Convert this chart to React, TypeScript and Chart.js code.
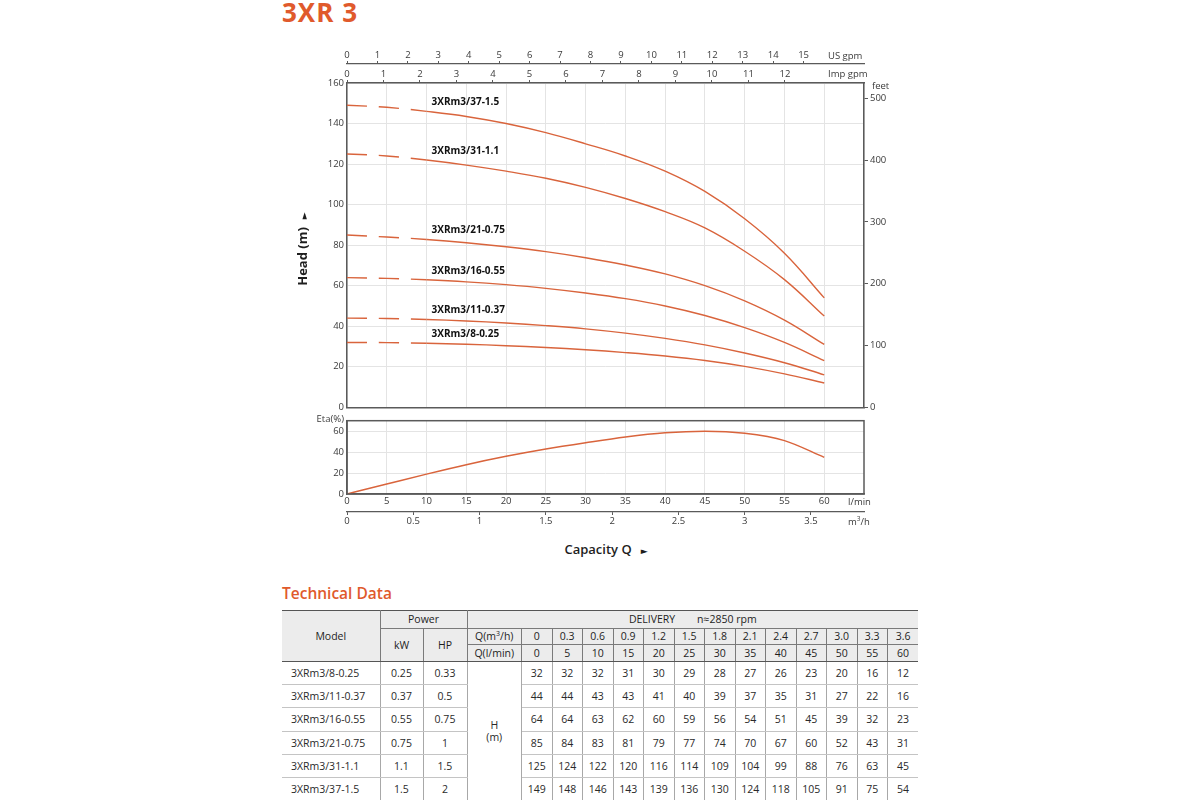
import React, { useEffect, useRef } from "react";
import { Chart, registerables } from "chart.js";

Chart.register(...registerables);

// ---------- data ----------
const models = ["3XRm3/8-0.25", "3XRm3/11-0.37", "3XRm3/16-0.55", "3XRm3/21-0.75", "3XRm3/31-1.1", "3XRm3/37-1.5"];
const powerKW = ["0.25", "0.37", "0.55", "0.75", "1.1", "1.5"];
const powerHP = ["0.33", "0.5", "0.75", "1", "1.5", "2"];
const flowM3h = ["0", "0.3", "0.6", "0.9", "1.2", "1.5", "1.8", "2.1", "2.4", "2.7", "3.0", "3.3", "3.6"];
const flowLmin = [0, 5, 10, 15, 20, 25, 30, 35, 40, 45, 50, 55, 60];

// head values printed in the table
const table_8_025 = [32, 32, 32, 31, 30, 29, 28, 27, 26, 23, 20, 16, 12];
const table_11_037 = [44, 44, 43, 43, 41, 40, 39, 37, 35, 31, 27, 22, 16];
const table_16_055 = [64, 64, 63, 62, 60, 59, 56, 54, 51, 45, 39, 32, 23];
const table_21_075 = [85, 84, 83, 81, 79, 77, 74, 70, 67, 60, 52, 43, 31];
const table_31_11 = [125, 124, 122, 120, 116, 114, 109, 104, 99, 88, 76, 63, 45];
const table_37_15 = [149, 148, 146, 143, 139, 136, 130, 124, 118, 105, 91, 75, 54];
const tableHeads = [table_8_025, table_11_037, table_16_055, table_21_075, table_31_11, table_37_15];

const curve_8_025 = [32, 31.9, 31.6, 31.1, 30.4, 29.5, 28.4, 27, 25.3, 23.1, 20.2, 16.5, 12];
const curve_11_037 = [44, 43.8, 43.3, 42.6, 41.6, 40.3, 38.7, 36.6, 34, 30.8, 26.8, 22, 16];
const curve_16_055 = [64, 63.6, 62.9, 61.9, 60.5, 58.7, 56.4, 53.6, 50, 45.3, 39.3, 32, 23];
const curve_21_075 = [85, 84, 82.8, 81.2, 79.2, 76.8, 73.8, 70.2, 65.8, 60, 52.5, 43, 31];
const curve_31_11 = [125, 124, 122, 119.5, 116.5, 113, 108.5, 103, 96.5, 88.5, 77, 63, 45];
const curve_37_15 = [149, 148, 146, 143.5, 140, 135.5, 130, 124, 116.5, 106.5, 93, 76, 54];
const curveHeads = [curve_8_025, curve_11_037, curve_16_055, curve_21_075, curve_31_11, curve_37_15];

const etaValues = [0, 9.5, 19, 28, 36, 43, 49, 54.5, 58.5, 60, 58, 51, 35];

const headTicksMax = 160;
const etaTicksMax = 70;
const flowMax = 65; // l/min at right edge of plot
const usGpmLastTick = 15;
const impGpmLastTick = 12;
const feetLastTick = 500;
const m3hLastTick = 3.5;
const flowLastTick = 60;

// unit conversions (as drawn in the reference)
const LPM_PER_USGPM = 3.827;
const LPM_PER_IMPGPM = 4.588;
const FT_PER_M = 3.28084;
const LPM_PER_M3H = 1000 / 60;

const DASH_UNTIL = 10; // l/min where the dashed start of the curves ends
const LABEL_INDEX = 2; // point above which a curve's name is written

// ---------- style ----------
const FONT = "'Open Sans', 'Noto Sans', sans-serif";
const ORANGE_TEXT = "#e05a2c";
const ORANGE_LINE = "#d9643c";
const AXIS = "#5a5a5a";
const GRID = "#e4e4e4";
const TICK = "#3a3a3a";
const HEADER_BG = "#ececec";

const tickFont = { size: 9.5, family: FONT };

const curveLabelPlugin = {
  id: "curveLabels",
  afterDatasetsDraw(chart: any) {
    const { ctx } = chart;
    const xs = chart.scales.x;
    const ys = chart.scales.y;
    ctx.save();
    ctx.font = `bold 10px ${FONT}`;
    ctx.fillStyle = "#111";
    ctx.textAlign = "left";
    ctx.textBaseline = "middle";
    chart.data.datasets.forEach((ds: any) => {
      const pt = ds.data[LABEL_INDEX];
      ctx.fillText(ds.label, xs.getPixelForValue(pt.x) + 5, ys.getPixelForValue(pt.y) - 9);
    });
    ctx.restore();
  },
};

const framePlugin = {
  id: "frame",
  afterDraw(chart: any) {
    const { ctx, chartArea: a } = chart;
    ctx.save();
    ctx.strokeStyle = AXIS;
    ctx.lineWidth = 1.5;
    ctx.strokeRect(a.left, a.top, a.right - a.left, a.bottom - a.top);
    ctx.restore();
  },
};

function Txt(props: { x: number; y: number; align?: "left" | "right" | "center"; size?: number; weight?: number; color?: string; children: any; style?: any }) {
  const { x, y, align = "left", size = 9.5, weight = 400, color = TICK, children, style } = props;
  const s: any = {
    position: "absolute",
    top: y,
    fontSize: size,
    fontWeight: weight,
    color,
    lineHeight: 1,
    whiteSpace: "nowrap",
    fontFamily: FONT,
  };
  if (align === "left") {
    s.left = x;
    s.transform = "translateY(-50%)";
  } else if (align === "right") {
    s.right = 1200 - x;
    s.transform = "translateY(-50%)";
  } else {
    s.left = x;
    s.transform = "translate(-50%, -50%)";
  }
  return <div style={{ ...s, ...style }}>{children}</div>;
}

export default function App() {
  const mainRef = useRef<HTMLCanvasElement>(null);
  const etaRef = useRef<HTMLCanvasElement>(null);

  useEffect(() => {
    Chart.defaults.font.family = FONT;

    const main = new Chart(mainRef.current as HTMLCanvasElement, {
      type: "line",
      data: {
        datasets: curveHeads.map((h, i) => ({
          label: models[i],
          data: flowLmin.map((q, j) => ({ x: q, y: h[j] })),
          borderColor: ORANGE_LINE,
          borderWidth: 1.4,
          pointRadius: 0,
          fill: false,
          tension: 0.4,
          xAxisID: "x",
          yAxisID: "y",
          segment: {
            borderDash: (ctx: any) => (ctx.p0.parsed.x < DASH_UNTIL ? [20, 12] : undefined),
          },
        })),
      } as any,
      options: {
        animation: false,
        responsive: false,
        layout: { padding: 0 },
        plugins: { legend: { display: false }, tooltip: { enabled: false } },
        scales: {
          x: {
            type: "linear",
            position: "bottom",
            min: 0,
            max: flowMax,
            ticks: { display: false, stepSize: 5 },
            grid: { color: GRID, drawTicks: false, lineWidth: 1 },
            border: { color: AXIS, width: 1.5 },
            afterFit: (s: any) => {
              s.height = 8;
            },
          },
          us: {
            type: "linear",
            position: "top",
            weight: 1,
            min: 0,
            max: flowMax / LPM_PER_USGPM,
            ticks: { stepSize: 1, padding: 0, color: TICK, font: tickFont, maxRotation: 0, autoSkip: false },
            grid: { drawOnChartArea: false, tickLength: 3, color: AXIS },
            border: { color: AXIS, width: 1.2 },
            afterBuildTicks: (s: any) => {
              s.ticks = s.ticks.filter((t: any) => t.value <= usGpmLastTick);
            },
            afterFit: (s: any) => {
              s.height = 20;
            },
          },
          imp: {
            type: "linear",
            position: "top",
            weight: 0,
            min: 0,
            max: flowMax / LPM_PER_IMPGPM,
            ticks: { stepSize: 1, padding: 0, color: TICK, font: tickFont, maxRotation: 0, autoSkip: false },
            grid: { drawOnChartArea: false, tickLength: 3, color: AXIS },
            border: { color: AXIS, width: 1.5 },
            afterBuildTicks: (s: any) => {
              s.ticks = s.ticks.filter((t: any) => t.value <= impGpmLastTick);
            },
            afterFit: (s: any) => {
              s.height = 19;
            },
          },
          y: {
            type: "linear",
            position: "left",
            min: 0,
            max: headTicksMax,
            ticks: { stepSize: 20, padding: 3, color: TICK, font: tickFont },
            grid: { color: GRID, drawTicks: false },
            border: { color: AXIS, width: 1.5 },
            afterFit: (s: any) => {
              s.width = 67;
            },
          },
          ft: {
            type: "linear",
            position: "right",
            min: 0,
            max: headTicksMax * FT_PER_M,
            ticks: { stepSize: 100, padding: 2, color: TICK, font: tickFont },
            grid: { drawOnChartArea: false, tickLength: 4, color: AXIS },
            border: { color: AXIS, width: 1.5 },
            afterBuildTicks: (s: any) => {
              s.ticks = s.ticks.filter((t: any) => t.value <= feetLastTick);
            },
            afterFit: (s: any) => {
              s.width = 36;
            },
          },
        },
      } as any,
      plugins: [curveLabelPlugin],
    });

    const eta = new Chart(etaRef.current as HTMLCanvasElement, {
      type: "line",
      data: {
        datasets: [
          {
            label: "Eta",
            data: flowLmin.map((q, j) => ({ x: q, y: etaValues[j] })),
            borderColor: ORANGE_LINE,
            borderWidth: 1.5,
            pointRadius: 0,
            fill: false,
            cubicInterpolationMode: "monotone",
            xAxisID: "x",
            yAxisID: "y",
          },
        ],
      } as any,
      options: {
        animation: false,
        responsive: false,
        layout: { padding: { top: 7, right: 36, left: 0, bottom: 0 } },
        plugins: { legend: { display: false }, tooltip: { enabled: false } },
        scales: {
          x: {
            type: "linear",
            position: "bottom",
            weight: 0,
            min: 0,
            max: flowMax,
            ticks: { stepSize: 5, padding: 2, color: TICK, font: tickFont, maxRotation: 0, autoSkip: false },
            grid: { color: GRID, drawTicks: false },
            border: { color: AXIS, width: 1.5 },
            afterBuildTicks: (s: any) => {
              s.ticks = s.ticks.filter((t: any) => t.value <= flowLastTick);
            },
            afterFit: (s: any) => {
              s.height = 18;
            },
          },
          m3h: {
            type: "linear",
            position: "bottom",
            weight: 1,
            min: 0,
            max: flowMax / LPM_PER_M3H,
            ticks: {
              stepSize: 0.5,
              padding: 1,
              color: TICK,
              font: tickFont,
              maxRotation: 0,
              autoSkip: false,
              callback: (v: any) => String(Math.round(Number(v) * 10) / 10),
            },
            grid: { drawOnChartArea: false, tickLength: 3, color: AXIS },
            border: { color: AXIS, width: 1.2 },
            afterBuildTicks: (s: any) => {
              s.ticks = s.ticks.filter((t: any) => t.value <= m3hLastTick);
            },
            afterFit: (s: any) => {
              s.height = 24;
            },
          },
          y: {
            type: "linear",
            position: "left",
            min: 0,
            max: etaTicksMax,
            ticks: {
              stepSize: 10,
              padding: 3,
              color: TICK,
              font: tickFont,
              callback: (v: any) => (v % 20 === 0 ? String(v) : ""),
            },
            grid: { color: GRID, drawTicks: false },
            border: { color: AXIS, width: 1.5 },
            afterFit: (s: any) => {
              s.width = 67;
            },
          },
        },
      } as any,
      plugins: [framePlugin],
    });

    return () => {
      main.destroy();
      eta.destroy();
    };
  }, []);

  const cell: any = {
    padding: 0,
    textAlign: "center",
    verticalAlign: "middle",
    fontSize: 10.5,
    color: "#2a2a2a",
    fontFamily: FONT,
    lineHeight: 1.15,
  };
  const hdr: any = { ...cell, background: HEADER_BG, color: "#1e1e1e", fontWeight: 500 };
  const hb = "1px solid #7a7a7a";
  const db = "1px solid #c4c4c4";
  const dv = "1px solid #a8a8a8";

  return (
    <div
      style={{
        position: "absolute",
        left: 0,
        top: 0,
        width: 1200,
        height: 800,
        background: "#fff",
        overflow: "hidden",
        fontFamily: FONT,
      }}
    >
      <Txt x={282} y={12} size={26} weight={700} color={ORANGE_TEXT} style={{ letterSpacing: 1 }}>
        3XR 3
      </Txt>

      {/* main chart */}
      <div style={{ position: "absolute", left: 280, top: 44, width: 620, height: 372 }}>
        <canvas ref={mainRef} width={620} height={372} style={{ display: "block", width: 620, height: 372 }} />
      </div>
      {/* efficiency chart */}
      <div style={{ position: "absolute", left: 280, top: 412, width: 620, height: 124 }}>
        <canvas ref={etaRef} width={620} height={124} style={{ display: "block", width: 620, height: 124 }} />
      </div>

      {/* axis unit labels */}
      <Txt x={828} y={56}>US gpm</Txt>
      <Txt x={828} y={74}>Imp gpm</Txt>
      <Txt x={872} y={86}>feet</Txt>
      <Txt x={344} y={419} align="right">Eta(%)</Txt>
      <Txt x={848} y={501.5}>l/min</Txt>
      <Txt x={848} y={521.5}>
        m<sup style={{ fontSize: 6.5, lineHeight: 0, verticalAlign: "super" }}>3</sup>/h
      </Txt>

      {/* axis titles */}
      <div
        style={{
          position: "absolute",
          left: 302,
          top: 249,
          transform: "translate(-50%, -50%) rotate(-90deg)",
          fontSize: 13,
          fontWeight: 700,
          color: "#1e1e1e",
          whiteSpace: "nowrap",
          lineHeight: 1,
          fontFamily: FONT,
        }}
      >
        Head (m)<span style={{ fontSize: 9, marginLeft: 8, fontFamily: "'DejaVu Sans'" }}>►</span>
      </div>
      <Txt x={606} y={549} align="center" size={13} weight={600} color="#1e1e1e">
        Capacity Q<span style={{ fontSize: 9, marginLeft: 9, fontFamily: "'DejaVu Sans'" }}>►</span>
      </Txt>

      {/* technical data */}
      <Txt x={282} y={594} size={15.5} weight={600} color={ORANGE_TEXT}>
        Technical Data
      </Txt>

      <table
        style={{
          position: "absolute",
          left: 282,
          top: 610,
          width: 636,
          borderCollapse: "collapse",
          tableLayout: "fixed",
          borderTop: "1.5px solid #555",
        }}
      >
        <colgroup>
          <col style={{ width: 98 }} />
          <col style={{ width: 43 }} />
          <col style={{ width: 44 }} />
          <col style={{ width: 54.5 }} />
          {flowM3h.map((_, i) => (
            <col key={i} style={{ width: 30.5 }} />
          ))}
        </colgroup>
        <tbody>
          <tr style={{ height: 18 }}>
            <td rowSpan={3} style={{ ...hdr, borderRight: hb, borderBottom: "1.5px solid #555" }}>
              Model
            </td>
            <td colSpan={2} style={{ ...hdr, borderRight: hb, borderBottom: hb }}>
              Power
            </td>
            <td colSpan={14} style={{ ...hdr, borderBottom: hb, whiteSpace: "pre" }}>
              {"DELIVERY        n≈2850 rpm"}
            </td>
          </tr>
          <tr style={{ height: 16 }}>
            <td rowSpan={2} style={{ ...hdr, borderRight: hb, borderBottom: "1.5px solid #555" }}>
              kW
            </td>
            <td rowSpan={2} style={{ ...hdr, borderRight: hb, borderBottom: "1.5px solid #555" }}>
              HP
            </td>
            <td style={{ ...hdr, borderRight: hb, borderBottom: hb }}>
              Q(m<sup style={{ fontSize: 7, lineHeight: 0 }}>3</sup>/h)
            </td>
            {flowM3h.map((v, i) => (
              <td key={i} style={{ ...hdr, borderRight: i < flowM3h.length - 1 ? hb : undefined, borderBottom: hb }}>
                {v}
              </td>
            ))}
          </tr>
          <tr style={{ height: 17 }}>
            <td style={{ ...hdr, borderRight: hb, borderBottom: "1.5px solid #555" }}>Q(l/min)</td>
            {flowLmin.map((v, i) => (
              <td
                key={i}
                style={{ ...hdr, borderRight: i < flowLmin.length - 1 ? hb : undefined, borderBottom: "1.5px solid #555" }}
              >
                {v}
              </td>
            ))}
          </tr>
          {models.map((m, r) => (
            <tr key={m} style={{ height: 23.2 }}>
              <td style={{ ...cell, textAlign: "left", paddingLeft: 9, borderRight: dv, borderBottom: db }}>{m}</td>
              <td style={{ ...cell, borderRight: dv, borderBottom: db }}>{powerKW[r]}</td>
              <td style={{ ...cell, borderRight: dv, borderBottom: db }}>{powerHP[r]}</td>
              {r === 0 && (
                <td rowSpan={models.length} style={{ ...cell, borderRight: dv, borderBottom: db }}>
                  H
                  <br />
                  (m)
                </td>
              )}
              {tableHeads[r].map((v, i) => (
                <td key={i} style={{ ...cell, borderRight: i < tableHeads[r].length - 1 ? dv : undefined, borderBottom: db }}>
                  {v}
                </td>
              ))}
            </tr>
          ))}
        </tbody>
      </table>
    </div>
  );
}
